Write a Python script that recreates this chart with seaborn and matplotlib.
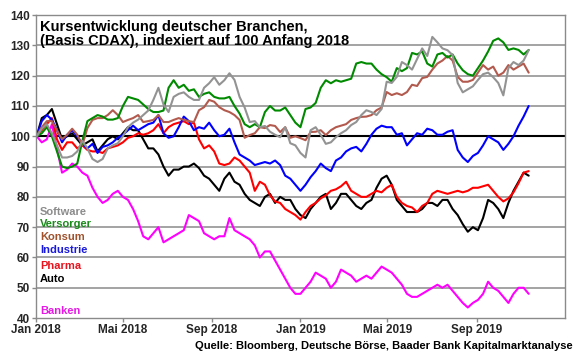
import numpy as np
import pandas as pd
import seaborn as sns
import matplotlib.pyplot as plt

# weekly index values, Basis CDAX, 100 = Anfang 2018
weeks = pd.date_range('2018-01-02', periods=98, freq='7D')

software = [100, 102.5, 104, 101, 97, 93, 93, 93.5, 95, 98.5,
            96, 92.5, 91.5, 92.5, 96, 97, 97.7, 100, 103, 104.5,
            105.5, 107, 108.5, 112, 116, 110.5, 108, 113, 114, 114.5,
            113, 112, 112, 116, 117.5, 119.5, 117, 118.5, 120.8, 118.6,
            113, 109.5, 104.7, 105, 103, 103.4, 101.5, 100.5, 99.7, 103,
            97.7, 97, 94.5, 93, 102, 103, 100.5, 97.5, 98, 99.7,
            101, 102, 103.7, 104.7, 107, 108.6, 108, 107, 109, 118,
            117.6, 119.6, 124.5, 123.5, 122, 125.5, 129, 126.5, 132.8, 131,
            129, 128.4, 126.8, 117.6, 114.5, 115.5, 116.5, 118.6, 120.5, 121,
            119.5, 117.6, 113.5, 122.5, 124.5, 123.5, 125, 128.4]
versorger = [100, 101, 103, 100, 95, 90, 89.5, 90, 91, 98.5,
             105, 106, 107, 106.5, 105.5, 105.5, 106, 110, 113, 112.5,
             112, 110.5, 109, 108, 108, 108.5, 116, 118.5, 116, 117,
             115, 115.5, 113, 114, 114.5, 113, 112.5, 112.5, 113, 110,
             107.5, 104, 103, 104, 103, 108, 110, 108.5, 108.5, 109.5,
             107, 104.5, 103, 109, 109.5, 111, 116, 118.5, 117.5, 118.5,
             118, 118.5, 119, 124, 124.5, 124, 124, 122, 120.5, 119.5,
             118, 122.5, 121.5, 122.5, 127.5, 127, 128, 124, 123, 127,
             127.5, 126, 127, 124, 121.8, 120.5, 120, 122.5, 125, 128,
             131.5, 132.3, 131, 128.5, 129, 128.5, 127, 128.5]
konsum = [100, 103, 105, 105, 102, 99, 100.5, 102.5, 100.5, 97,
          102.7, 105.4, 106, 106, 107, 108.6, 107, 104.7, 105.4, 106,
          107, 104.7, 105, 105.4, 107, 104.7, 104.7, 105.4, 106, 105.4,
          105, 104.7, 108.6, 109.6, 112, 111.4, 109.6, 108.6, 108, 107,
          105.4, 99.5, 100.4, 101, 103, 102.7, 103.7, 103.4, 101.4, 103,
          99.5, 100, 99.4, 98.7, 101.4, 101.5, 102, 100.4, 102, 103,
          103.5, 104, 105.4, 106, 106.4, 106.5, 107, 108.6, 109.5, 114.6,
          113.6, 114.2, 113.6, 114.6, 117, 116.6, 119.2, 119.6, 122, 124,
          125, 126.5, 125, 119.6, 118, 118, 118.6, 121, 123.5, 122,
          123, 120, 121, 123.5, 122, 123, 124, 121]
industrie = [100, 105, 107, 105.5, 102, 98, 100.5, 102, 100, 97.5,
             96, 97.5, 94.5, 96.5, 97, 98, 99.5, 100.5, 102, 103.5,
             102, 103, 104, 104.5, 107, 101, 99.5, 100, 103, 106.5,
             105, 102, 103, 102.5, 104.5, 102, 100, 100.5, 102.5, 98,
             94, 93, 92, 90.5, 91, 91.5, 91, 92, 90.5, 87,
             86, 84, 82, 84, 86.5, 88.5, 91, 89.5, 88.5, 92,
             93, 95, 96, 96.5, 95, 97.5, 100.5, 102.5, 103.5, 103,
             103, 100.5, 101, 97, 99, 101, 100.5, 102.5, 102, 100.5,
             100.5, 101.5, 102, 95.5, 93, 91.5, 93.5, 94.5, 97, 100,
             99, 98, 95.5, 97.5, 100, 103.5, 106.5, 110]
pharma = [100, 102, 104, 106, 99, 95.5, 98, 98, 96, 97,
          95.5, 95, 95, 94.5, 96, 96.5, 97, 98, 99.5, 100,
          101, 100.5, 101, 102, 104, 101, 103, 104, 104.5, 105,
          104, 104.5, 99, 96, 97, 95, 91, 90.5, 91, 93,
          92, 90, 88, 82, 85, 84, 80.5, 78.5, 78, 76,
          75, 74, 72.5, 75, 77, 78, 79.5, 80.5, 82, 82.5,
          83.5, 85, 82, 81, 80, 80, 81, 82, 81.5, 83,
          84, 80, 78, 77, 76.5, 75, 77, 78, 81, 82,
          81.5, 81, 81.5, 82, 81.5, 82, 83, 83, 83.5, 84,
          82, 80, 78.5, 79.5, 81.5, 84.5, 88, 88.5]
auto = [100, 106, 107, 109, 104, 99, 100, 101, 99, 97,
        98, 99, 95, 97, 99, 100, 99, 101, 103, 102,
        102, 99, 96, 96, 94, 90, 87, 89, 89, 90,
        90, 91, 89.5, 87, 86, 84, 82, 86, 88, 85,
        84, 81, 79, 78, 77, 80, 81, 78, 80, 79,
        79, 76, 74, 73, 76, 78, 80, 81, 76, 78,
        81, 81, 79, 77, 76, 78, 79, 83, 86, 87,
        84, 79, 77, 75, 75, 75, 76, 78, 78, 77,
        79, 79, 76, 74, 71, 68.5, 70, 69, 73, 79,
        78, 76, 73, 78, 82, 85, 88, 87]
banken = [100, 98, 99, 104, 96, 88, 89, 91, 90, 88,
          87, 83, 80, 78, 79, 81, 82, 80, 79, 76,
          72, 67, 66, 68, 70, 65, 66, 67, 68, 69,
          74, 73, 72, 68, 67, 66, 67, 67, 73, 69,
          68, 67, 66, 64, 60, 62, 62, 59, 56, 53,
          50, 48, 48, 50, 52, 55, 54, 53, 50, 52,
          56, 55, 54, 52, 53, 54, 53, 55, 57, 56,
          55, 53, 51, 48, 47, 47, 48, 49, 50, 51,
          50, 51, 49, 47, 45, 43.5, 45, 46, 48, 52,
          50, 49, 47, 45, 48, 50, 50, 48]

# drawing order: first one ends up at the bottom
branchen = ['Banken', 'Auto', 'Pharma', 'Industrie', 'Konsum', 'Versorger', 'Software']
line_colors = {'Software': '#939393', 'Versorger': '#008a00', 'Konsum': '#b35a4e',
               'Industrie': '#0000ff', 'Pharma': '#ff0000', 'Auto': '#000000',
               'Banken': '#ff00ff'}
text_colors = {'Software': '#8c8c8c', 'Versorger': '#1a8a1a', 'Konsum': '#a0522d',
               'Industrie': '#1a1adc', 'Pharma': '#e8141e', 'Auto': '#000000',
               'Banken': '#e619e6'}
label_y = {'Software': 75.1, 'Versorger': 71.2, 'Konsum': 66.6, 'Industrie': 62.6,
           'Pharma': 57.2, 'Auto': 52.9, 'Banken': 42.4}

tick_dates = pd.to_datetime(['2018-01-01', '2018-05-01', '2018-09-01',
                             '2019-01-01', '2019-05-01', '2019-09-01'])
tick_labels = ['Jan 2018', 'Mai 2018', 'Sep 2018', 'Jan 2019', 'Mai 2019', 'Sep 2019']

df = pd.DataFrame({'Datum': weeks, 'Software': software, 'Versorger': versorger,
                   'Konsum': konsum, 'Industrie': industrie, 'Pharma': pharma,
                   'Auto': auto, 'Banken': banken})
df = df.melt(id_vars='Datum', var_name='Branche', value_name='Index')

sns.set_style('white')
plt.rcParams['font.family'] = ['Liberation Sans', 'DejaVu Sans']
plt.rcParams['font.weight'] = 'bold'

fig, ax = plt.subplots(figsize=(5.8, 3.59), dpi=100)
fig.subplots_adjust(left=0.062, right=0.974, top=0.958, bottom=0.114)

# horizontal grid, 100 line in black
for y in range(50, 140, 10):
    if y == 100:
        ax.axhline(y, color='black', lw=1.5, zorder=1)
    else:
        ax.axhline(y, color='#8a8a8a', lw=1.1, zorder=1)

sns.lineplot(data=df, x='Datum', y='Index', hue='Branche', hue_order=branchen,
             palette=line_colors, linewidth=1.5, legend=False, ax=ax, zorder=2)

ax.set_xlim(pd.Timestamp('2018-01-01'), pd.Timestamp('2020-01-01'))
ax.set_ylim(40, 140)
ax.set_yticks(range(40, 141, 10))
ax.set_xticks(tick_dates)
ax.set_xticklabels(tick_labels)
ax.set_xlabel('')
ax.set_ylabel('')
ax.tick_params(axis='both', labelsize=8.5, length=3, width=1, color='#8a8a8a', pad=1.5,
               direction='out', bottom=True, left=True)
for lab in ax.get_xticklabels() + ax.get_yticklabels():
    lab.set_fontweight('bold')
for sp in ax.spines.values():
    sp.set_color('#8a8a8a')
    sp.set_linewidth(1)

ax.text(0.008, 0.985, 'Kursentwicklung deutscher Branchen,\n(Basis CDAX), indexiert auf 100 Anfang 2018',
        transform=ax.transAxes, ha='left', va='top', fontsize=10.5, fontweight='bold',
        linespacing=1.05, color='black')

for name in branchen:
    ax.text(0.0075, label_y[name], name, transform=ax.get_yaxis_transform(),
            ha='left', va='center', fontsize=8, fontweight='bold', color=text_colors[name])

fig.text(0.988, 0.036, 'Quelle: Bloomberg, Deutsche Börse, Baader Bank Kapitalmarktanalyse',
         ha='right', va='center', fontsize=8, fontweight='bold', color='black')

fig.savefig('out.png', dpi=100)
